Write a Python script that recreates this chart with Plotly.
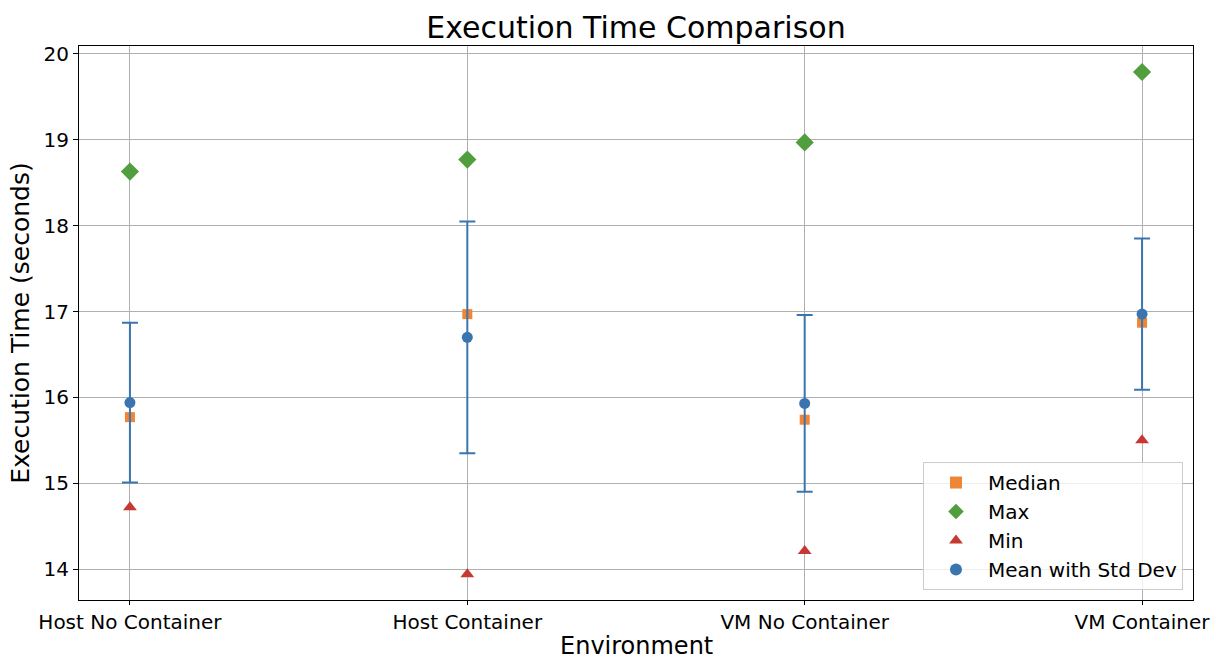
import plotly.graph_objects as go

environments = ["Host No Container", "Host Container", "VM No Container", "VM Container"]
mean_vals = [15.94, 16.70, 15.93, 16.97]
std_vals = [0.93, 1.35, 1.03, 0.88]
median_vals = [15.77, 16.97, 15.74, 16.87]
max_vals = [18.63, 18.77, 18.97, 19.79]
min_vals = [14.72, 13.94, 14.21, 15.50]

FONT = "DejaVu Sans"
x_idx = list(range(len(environments)))

fig = go.Figure()
fig.add_trace(go.Scatter(x=x_idx, y=median_vals, mode="markers", name="Median",
                         marker=dict(symbol="square", size=10, color="#ef8536")))
fig.add_trace(go.Scatter(x=x_idx, y=max_vals, mode="markers", name="Max",
                         marker=dict(symbol="diamond", size=14, color="#519e3e")))
fig.add_trace(go.Scatter(x=x_idx, y=min_vals, mode="markers", name="Min",
                         marker=dict(symbol="triangle-up", size=12, color="#c53932")))
fig.add_trace(go.Scatter(x=x_idx, y=mean_vals, mode="markers", name="Mean with Std Dev",
                         marker=dict(symbol="circle", size=11, color="#3b75af"),
                         error_y=dict(type="data", array=std_vals, visible=True,
                                      color="#3b75af", thickness=2, width=8)))

fig.update_layout(
    width=1216, height=659,
    margin=dict(l=79, r=23, t=46, b=59, autoexpand=False),
    paper_bgcolor="white", plot_bgcolor="white",
    font=dict(family=FONT, size=20, color="black"),
    title=dict(text="Execution Time Comparison", x=0.5, xanchor="center",
               xref="paper",
               y=1 - 27/659, yanchor="middle", font=dict(size=30, family=FONT)),
    legend=dict(x=0.991, y=0.018, xanchor="right", yanchor="bottom",
                bgcolor="rgba(255,255,255,0.8)", bordercolor="#cccccc", borderwidth=1,
                font=dict(size=20, family=FONT), itemsizing="constant", itemwidth=54),
    showlegend=True,
    annotations=[dict(text="Environment", xref="paper", yref="paper", x=0.5,
                      y=-46/554, xanchor="center", yanchor="middle", showarrow=False,
                      borderpad=0, font=dict(size=24, family=FONT))],
)
fig.update_xaxes(
    tickmode="array", tickvals=x_idx, ticktext=environments,
    range=[-0.151, 3.151], automargin=False,
    showgrid=True, gridcolor="#b0b0b0", gridwidth=1,
    showline=True, linecolor="black", linewidth=1, mirror=True,
    ticks="outside", ticklen=4, tickcolor="black", zeroline=False,
    tickfont=dict(size=20),
)
fig.update_yaxes(
    range=[13.64, 20.093], tickmode="array", tickvals=[14, 15, 16, 17, 18, 19, 20],
    automargin=False,
    showgrid=True, gridcolor="#b0b0b0", gridwidth=1,
    showline=True, linecolor="black", linewidth=1, mirror=True,
    ticks="outside", ticklen=5, tickcolor="black", zeroline=False,
    title=dict(text="Execution Time (seconds)", font=dict(size=25, family=FONT), standoff=6),
    tickfont=dict(size=20),
)

fig.write_html("out.html", config={"displayModeBar": False},
               post_script="document.body.style.margin='0px';document.body.style.overflow='hidden';")
